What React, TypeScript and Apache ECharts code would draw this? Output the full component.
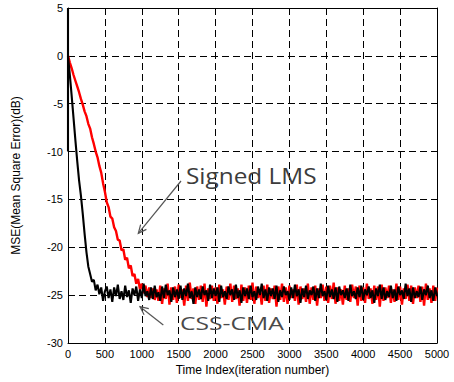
import React, { useEffect, useRef } from "react";
import * as echarts from "echarts";

// iteration step between samples
const step = 25;
const xTicks = { min: 0, max: 5000, interval: 500 };
const yTicks = { min: -30, max: 5, interval: 5 };

// initial spike of CSS-CMA at iteration 0
const cssCmaHead = [
  [0, 5],
  [0, -10],
];

// CSS-CMA MSE (dB), one value every 25 iterations from 0 to 5000
const cssCma = [
  0, -2.0, -4.2, -6.5, -8.8, -11.0, -13.0, -14.6, -16.5, -18.6,
  -20.5, -22.0, -22.8, -23.6, -23.4, -24.5, -23.9, -24.9, -24.2, -25.6,
  -24.6,
  -24.1, -25.3, -24.4, -25.7, -24.2, -25.1, -23.9, -25.4, -24.6, -25.5,
  -24.0, -25.2, -24.5, -25.8, -24.3, -25.0, -24.1, -25.6, -24.4, -25.3,
  -23.8, -25.1, -24.6, -25.5, -24.2, -25.4, -24.0, -25.2, -24.7, -25.6,
  -24.1, -25.3, -23.9, -25.0, -24.5, -25.7, -24.2, -25.2, -24.4, -25.4,
  -24.0, -25.5, -24.3, -25.1, -23.8, -25.3, -24.6, -25.9, -24.2, -25.2,
  -24.4, -25.4, -24.1, -25.0, -24.5, -25.6, -23.9, -25.3, -24.3, -25.1,
  -24.2, -25.7, -24.0, -25.2, -24.6, -25.4, -24.1, -25.0, -24.4, -25.5,
  -23.9, -25.3, -24.5, -25.8, -24.2, -25.1, -24.3, -25.4, -24.0, -25.2,
  -24.6, -25.5, -24.1, -25.0, -23.8, -25.3, -24.4, -25.6, -24.2, -25.1,
  -24.3, -25.4, -24.0, -25.7, -24.5, -25.2, -24.1, -25.0, -24.6, -25.5,
  -24.2, -25.3, -23.9, -25.1, -24.4, -25.8, -24.3, -25.2, -24.0, -25.4,
  -24.5, -25.0, -24.1, -25.6, -24.3, -25.3, -23.8, -25.1, -24.6, -25.5,
  -24.0, -25.2, -24.4, -25.4, -24.2, -25.7, -24.1, -25.0, -24.5, -25.3,
  -24.3, -25.6, -23.9, -25.1, -24.6, -25.4, -24.2, -25.2, -24.0, -25.5,
  -24.4, -25.0, -24.1, -25.3, -24.5, -25.8, -24.3, -25.1, -23.9, -25.4,
  -24.2, -25.5, -24.6, -25.2, -24.0, -25.3, -24.4, -25.6, -24.1, -25.0,
  -24.5, -25.4, -23.8, -25.1, -24.3, -25.7, -24.2, -25.3, -24.6, -25.2,
  -24.1, -25.5, -24.4, -25.0, -24.0, -25.3, -24.5, -25.6, -24.2, -25.1,
];

// Signed LMS MSE (dB), one value every 25 iterations from 0 to 5000
const signedLms = [
  0, -0.7, -1.3, -2.0, -2.6, -3.2, -3.8, -4.5, -5.1, -5.8,
  -6.3, -7.1, -7.6, -8.5, -9.2, -10.0, -10.6, -11.5, -12.2, -13.3,
  -14.2, -15.3, -15.8, -16.8, -17.0, -17.9, -18.3, -19.2, -19.3, -20.3,
  -20.2, -21.3, -21.1, -22.2, -21.9, -23.0, -22.8, -23.8, -23.3, -24.4,
  -23.8, -24.8, -24.0, -25.2, -24.2, -25.3, -24.3, -25.5, -24.4,
  -25.6, -24.0, -25.9, -24.3, -25.4, -23.8, -26.0, -24.2, -25.5, -24.1,
  -25.8, -23.9, -25.3, -24.4, -26.1, -24.0, -25.6, -23.7, -25.4, -24.3,
  -25.9, -24.1, -25.5, -24.0, -25.7, -23.8, -26.2, -24.3, -25.4, -24.0,
  -25.6, -24.2, -25.9, -23.9, -25.3, -24.4, -26.0, -24.1, -25.5, -23.8,
  -25.7, -24.0, -25.4, -24.3, -26.1, -23.9, -25.6, -24.2, -25.8, -24.0,
  -25.5, -23.7, -25.9, -24.1, -25.3, -24.4, -26.0, -24.0, -25.6, -23.9,
  -25.8, -24.3, -25.4, -24.0, -26.2, -24.1, -25.5, -23.8, -25.7, -24.2,
  -25.9, -24.0, -25.3, -24.4, -25.6, -23.9, -26.0, -24.1, -25.4, -24.3,
  -25.7, -23.8, -25.9, -24.2, -25.5, -24.0, -26.1, -24.3, -25.3, -23.9,
  -25.6, -24.1, -25.8, -24.0, -25.4, -23.7, -25.9, -24.2, -25.6, -24.4,
  -26.0, -24.0, -25.5, -24.3, -25.7, -23.9, -25.3, -24.1, -26.1, -24.0,
  -25.6, -24.2, -25.8, -23.8, -25.4, -24.3, -25.9, -24.0, -25.5, -24.1,
  -26.2, -23.9, -25.6, -24.2, -25.3, -24.0, -25.8, -24.4, -25.7, -23.8,
  -25.5, -24.1, -26.0, -24.3, -25.4, -23.9, -25.6, -24.0, -25.9, -24.2,
  -25.3, -24.0, -25.7, -24.1, -26.1, -23.8, -25.5, -24.3, -25.8, -24.0,
  -25.6, -24.2,
];

const labels = {
  signed: "Signed LMS",
  css: "CSS-CMA",
  xName: "Time Index(iteration number)",
  yName: "MSE(Mean Square Error)(dB)",
};

const FONT = "'Liberation Sans', Arial, sans-serif";

export default function App() {
  const ref = useRef<HTMLDivElement>(null);

  useEffect(() => {
    if (!ref.current) return;
    const chart = echarts.init(ref.current, null, { renderer: "svg" });

    const blackData = [
      ...cssCmaHead,
      ...cssCma.map((v, i) => [i * step, v]),
    ];
    const redData = signedLms.map((v, i) => [i * step, v]);

    const dashed = { color: "#000", width: 1, type: [7, 4] as number[] };
    const plain = (v: number) => String(v);

    chart.setOption({
      animation: false,
      backgroundColor: "#fff",
      grid: { left: 68, right: 17, top: 8, bottom: 39, containLabel: false },
      xAxis: [
        {
          type: "value",
          ...xTicks,
          position: "bottom",
          name: labels.xName,
          nameLocation: "middle",
          nameGap: 21,
          nameTextStyle: { color: "#000", fontFamily: FONT, fontSize: 12 },
          axisLine: { show: true, onZero: false, lineStyle: { color: "#000", width: 1 } },
          axisTick: { show: true, inside: true, length: 4, lineStyle: { color: "#000" } },
          axisLabel: { color: "#000", fontFamily: FONT, fontSize: 11, margin: 5, formatter: plain },
          splitLine: { show: true, lineStyle: dashed },
        },
        {
          type: "value",
          ...xTicks,
          position: "top",
          axisLine: { show: true, onZero: false, lineStyle: { color: "#000", width: 1 } },
          axisTick: { show: true, inside: true, length: 4, lineStyle: { color: "#000" } },
          axisLabel: { show: false },
          splitLine: { show: false },
        },
      ],
      yAxis: [
        {
          type: "value",
          ...yTicks,
          position: "left",
          name: labels.yName,
          nameLocation: "middle",
          nameGap: 46,
          nameTextStyle: { color: "#000", fontFamily: FONT, fontSize: 12 },
          axisLine: { show: true, onZero: false, lineStyle: { color: "#000", width: 1 } },
          axisTick: { show: true, inside: true, length: 4, lineStyle: { color: "#000" } },
          axisLabel: { color: "#000", fontFamily: FONT, fontSize: 11, margin: 5, formatter: plain },
          splitLine: { show: true, lineStyle: dashed },
        },
        {
          type: "value",
          ...yTicks,
          position: "right",
          axisLine: { show: true, onZero: false, lineStyle: { color: "#000", width: 1 } },
          axisTick: { show: true, inside: true, length: 4, lineStyle: { color: "#000" } },
          axisLabel: { show: false },
          splitLine: { show: false },
        },
      ],
      series: [
        {
          name: labels.signed,
          type: "line",
          data: redData,
          showSymbol: false,
          lineStyle: { color: "#ff0000", width: 2.4 },
          z: 2,
        },
        {
          name: labels.css,
          type: "line",
          data: blackData,
          showSymbol: false,
          lineStyle: { color: "#000", width: 2.1 },
          z: 3,
        },
      ],
      graphic: [
        {
          type: "text",
          x: 186,
          y: 176,
          scaleX: 1.16,
          style: {
            text: labels.signed,
            fontFamily: "'Open Sans', sans-serif",
            fontSize: 21,
            fill: "#3c3c3c",
            verticalAlign: "middle",
            textAlign: "left",
          },
          z: 10,
        },
        {
          type: "text",
          x: 180,
          y: 322,
          scaleX: 1.3,
          style: {
            text: labels.css,
            fontFamily: "'Open Sans', sans-serif",
            fontSize: 19,
            fill: "#4a4a4a",
            verticalAlign: "middle",
            textAlign: "left",
          },
          z: 10,
        },
        {
          type: "line",
          shape: { x1: 181, y1: 181, x2: 138.3, y2: 233.3 },
          style: { stroke: "#555", lineWidth: 1.2 },
          z: 10,
        },
        {
          type: "polyline",
          shape: { points: [[146.4, 229.4], [138.3, 233.3], [140.6, 224.6]] },
          style: { stroke: "#555", lineWidth: 1.2, fill: "none" },
          z: 10,
        },
        {
          type: "line",
          shape: { x1: 163.3, y1: 325, x2: 140, y2: 306.7 },
          style: { stroke: "#555", lineWidth: 1.2 },
          z: 10,
        },
        {
          type: "polyline",
          shape: { points: [[144.1, 314.7], [140, 306.7], [148.8, 308.7]] },
          style: { stroke: "#555", lineWidth: 1.2, fill: "none" },
          z: 10,
        },
      ],
    });

    return () => chart.dispose();
  }, []);

  return (
    <div
      ref={ref}
      style={{ position: "fixed", left: 0, top: 0, width: 454, height: 382, background: "#fff" }}
    />
  );
}
